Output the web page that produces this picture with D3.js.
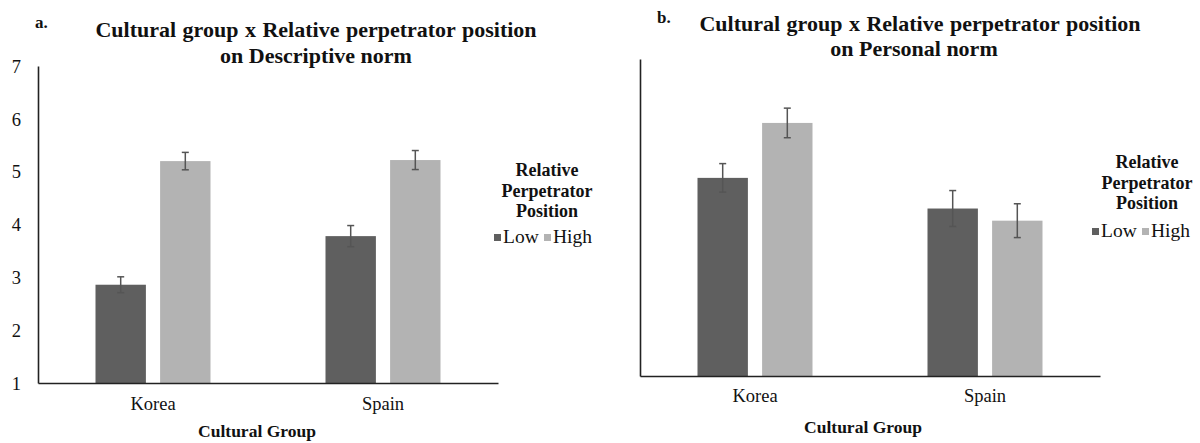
<!DOCTYPE html>
<html>
<head>
<meta charset="utf-8">
<script src="https://cdn.jsdelivr.net/npm/d3@7"></script>
<style>
  html, body { margin: 0; padding: 0; background: #fff; }
  svg { display: block; }
</style>
</head>
<body>
<svg id="chart" width="1200" height="443" font-family="Liberation Serif, Times New Roman, serif"></svg>
<script>
// ---- Data ----
const categories = ["Korea", "Spain"];
const seriesNames = ["Low", "High"];
const seriesColors = ["#5f5f5f", "#b3b3b3"];
const yTicks = [1, 2, 3, 4, 5, 6, 7];

// Panel a: Descriptive norm
const descLow = [2.86, 3.78];
const descHigh = [5.20, 5.22];
const descLowErr = [0.15, 0.20];
const descHighErr = [0.165, 0.18];

// Panel b: Personal norm
const persLow = [4.75, 4.17];
const persHigh = [5.79, 3.94];
const persLowErr = [0.27, 0.34];
const persHighErr = [0.28, 0.32];

const titleLine1 = "Cultural group x Relative perpetrator position";
const titleA2 = "on Descriptive norm";
const titleB2 = "on Personal norm";
const xAxisTitle = "Cultural Group";
const legendTitle = ["Relative", "Perpetrator", "Position"];

const FONT = "Liberation Serif, Times New Roman, serif";
const svg = d3.select("#chart");

function drawPanel(cfg) {
  const g = svg.append("g").attr("font-family", FONT);
  const x0 = d3.scaleBand().domain(categories).range([cfg.left, cfg.right])
    .paddingInner(0.5).paddingOuter(0.25);
  const x1 = d3.scaleBand().domain(seriesNames).range([0, x0.bandwidth()])
    .paddingInner(0.22).paddingOuter(0);
  const y = d3.scaleLinear().domain([1, 7]).range([cfg.bottom, cfg.top]);
  const color = d3.scaleOrdinal().domain(seriesNames).range(seriesColors);

  const rows = [];
  categories.forEach((c, i) => {
    rows.push({cat: c, s: "Low", v: cfg.low[i], e: cfg.lowErr[i]});
    rows.push({cat: c, s: "High", v: cfg.high[i], e: cfg.highErr[i]});
  });

  // bars
  g.selectAll("rect.bar").data(rows).enter().append("rect")
    .attr("class", "bar")
    .attr("x", d => x0(d.cat) + x1(d.s))
    .attr("width", x1.bandwidth())
    .attr("y", d => y(d.v))
    .attr("height", d => y(1) - y(d.v))
    .attr("fill", d => color(d.s));

  // error bars
  const eb = g.selectAll("g.err").data(rows).enter().append("g").attr("class", "err")
    .attr("stroke", "#555").attr("stroke-width", 1.5);
  const cx = d => x0(d.cat) + x1(d.s) + x1.bandwidth() / 2;
  eb.append("line").attr("x1", cx).attr("x2", cx)
    .attr("y1", d => y(d.v + d.e)).attr("y2", d => y(d.v - d.e));
  eb.append("line").attr("x1", d => cx(d) - 3.5).attr("x2", d => cx(d) + 3.5)
    .attr("y1", d => y(d.v + d.e)).attr("y2", d => y(d.v + d.e));
  eb.append("line").attr("x1", d => cx(d) - 3.5).attr("x2", d => cx(d) + 3.5)
    .attr("y1", d => y(d.v - d.e)).attr("y2", d => y(d.v - d.e));

  // y axis
  const yAxis = d3.axisLeft(y).tickValues(yTicks).tickSize(0).tickSizeOuter(0)
    .tickFormat(cfg.showTicks ? d3.format("d") : () => "");
  const ya = g.append("g").attr("transform", `translate(${cfg.left},0)`).call(yAxis)
    .attr("font-family", FONT);
  ya.select(".domain").attr("stroke", "#222").attr("stroke-width", 1.6);
  ya.selectAll("text").attr("x", cfg.tickLabelX - cfg.left).attr("dy", "0.34em")
    .attr("font-size", 18.5).attr("fill", "#111");

  // x axis
  const xAxis = d3.axisBottom(x0).tickSize(0).tickSizeOuter(0);
  const xa = g.append("g").attr("transform", `translate(0,${cfg.bottom})`).call(xAxis)
    .attr("font-family", FONT);
  xa.select(".domain").attr("stroke", "#222").attr("stroke-width", 1.6);
  xa.selectAll("text").attr("y", cfg.catLabelY - cfg.bottom).attr("dy", 0)
    .attr("font-size", 18.5).attr("fill", "#111");

  // x axis title
  g.append("text").attr("x", cfg.xTitleX).attr("y", cfg.xTitleY)
    .attr("text-anchor", "middle").attr("font-weight", "bold").attr("font-size", 17.5)
    .attr("fill", "#111").text(xAxisTitle);

  // chart titles
  g.append("text").attr("x", cfg.letterX).attr("y", cfg.letterY)
    .attr("font-weight", "bold").attr("font-size", 17).attr("fill", "#111").text(cfg.letter);
  g.append("text").attr("x", cfg.titleX).attr("y", cfg.title1Y)
    .attr("text-anchor", "middle").attr("font-weight", "bold").attr("font-size", 22)
    .attr("fill", "#111").attr("word-spacing", "1px").text(titleLine1);
  g.append("text").attr("x", cfg.title2X).attr("y", cfg.title2Y)
    .attr("text-anchor", "middle").attr("font-weight", "bold").attr("font-size", 22)
    .attr("fill", "#111").text(cfg.title2);

  // legend
  const lg = g.append("g");
  legendTitle.forEach((t, i) => {
    lg.append("text").attr("x", cfg.legX).attr("y", cfg.legY + i * 20.5)
      .attr("text-anchor", "middle").attr("font-weight", "bold").attr("font-size", 18)
      .attr("fill", "#111").text(t);
  });
  const items = [
    {s: "Low", sq: cfg.legItemX, tx: cfg.legItemX + 9},
    {s: "High", sq: cfg.legItemX + 50, tx: cfg.legItemX + 59}
  ];
  items.forEach(it => {
    lg.append("rect").attr("x", it.sq).attr("y", cfg.legItemY - 9).attr("width", 7).attr("height", 7)
      .attr("fill", color(it.s));
    lg.append("text").attr("x", it.tx).attr("y", cfg.legItemY)
      .attr("font-size", 19.5).attr("fill", "#111").text(it.s);
  });
}

drawPanel({
  left: 38, right: 498, top: 66, bottom: 383,
  low: descLow, high: descHigh, lowErr: descLowErr, highErr: descHighErr,
  showTicks: true, tickLabelX: 21, catLabelY: 410,
  xTitleX: 257, xTitleY: 437,
  letter: "a.", letterX: 35, letterY: 28,
  titleX: 316, title1Y: 37, title2X: 316, title2Y: 63, title2: titleA2,
  legX: 547, legY: 176, legItemX: 494, legItemY: 243
});

drawPanel({
  left: 640, right: 1100, top: 59, bottom: 376,
  low: persLow, high: persHigh, lowErr: persLowErr, highErr: persHighErr,
  showTicks: false, tickLabelX: 620, catLabelY: 402,
  xTitleX: 863, xTitleY: 433,
  letter: "b.", letterX: 657, letterY: 23,
  titleX: 920, title1Y: 31, title2X: 914, title2Y: 56, title2: titleB2,
  legX: 1147, legY: 168, legItemX: 1092, legItemY: 237
});
</script>
</body>
</html>
